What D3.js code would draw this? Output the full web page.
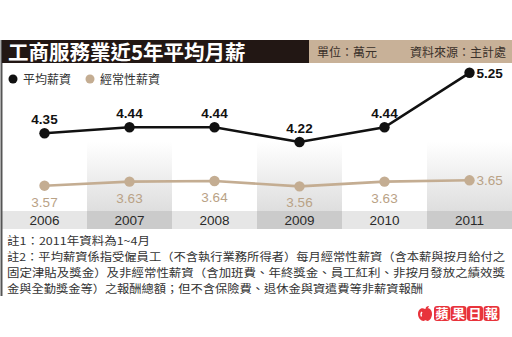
<!DOCTYPE html>
<html><head><meta charset="utf-8">
<script src="https://cdn.jsdelivr.net/npm/d3@7"></script>
<style>
html,body{margin:0;padding:0;background:#fff;}
svg{display:block;}
text{font-family:"Liberation Sans","Noto Sans CJK TC",sans-serif;}
.cjk{font-family:"Noto Sans CJK TC","Noto Sans CJK SC",sans-serif;}
</style></head>
<body>
<script>
const years = ["2006","2007","2008","2009","2010","2011"];
const avgPay = [4.35, 4.44, 4.44, 4.22, 4.44, 5.25];
const regularPay = [3.57, 3.63, 3.64, 3.56, 3.63, 3.65];
const seriesNames = ["平均薪資", "經常性薪資"];
const title = "工商服務業近5年平均月薪";
const unitText = "單位：萬元";
const sourceText = "資料來源：主計處";
const notes = [
  "註1：2011年資料為1~4月",
  "註2：平均薪資係指受僱員工（不含執行業務所得者）每月經常性薪資（含本薪與按月給付之",
  "固定津貼及獎金）及非經常性薪資（含加班費、年終獎金、員工紅利、非按月發放之績效獎",
  "金與全勤獎金等）之報酬總額；但不含保險費、退休金與資遣費等非薪資報酬"
];
const logoChars = ["蘋","果","日","報"];

const W = 512, H = 337;
const black = "#111", tan = "#c4ad92", tanText = "#b9a286";
const svg = d3.select("body").append("svg").attr("width", W).attr("height", H);
const defs = svg.append("defs");
const grad = defs.append("linearGradient").attr("id","colg").attr("x1",0).attr("y1",0).attr("x2",0).attr("y2",1);
grad.append("stop").attr("offset","0%").attr("stop-color","#fff");
grad.append("stop").attr("offset","100%").attr("stop-color","#dedede");

const x = d3.scaleBand().domain(years).range([2, W]).padding(0);
const y = d3.scaleLinear().domain([3, 5.5]).range([224, 56]);

// column backgrounds
const altYears = years.filter((d,i)=>i%2===1);
svg.selectAll("rect.col").data(altYears).join("rect")
  .attr("x", d=>x(d)).attr("y",142).attr("width", x.bandwidth()).attr("height", 69)
  .attr("fill","url(#colg)");
// x label band
svg.selectAll("rect.xb").data(years).join("rect")
  .attr("x", d=>x(d)).attr("y",211).attr("width", x.bandwidth()+0.5).attr("height", 18)
  .attr("fill",(d,i)=> i%2 ? "#cbcbcb" : "#e6e6e6");
svg.selectAll("text.yr").data(years).join("text")
  .attr("x", d=>x(d)+x.bandwidth()/2).attr("y",225).attr("text-anchor","middle")
  .attr("font-size",13.5).attr("fill","#2a2a2a").text(d=>d);

// left border
svg.append("line").attr("x1",1.5).attr("x2",1.5).attr("y1",40).attr("y2",296)
  .attr("stroke","#555").attr("stroke-width",2);

// title bar
svg.append("rect").attr("x",2).attr("y",40).attr("width",308).attr("height",23).attr("fill","#221714");
svg.append("rect").attr("x",309).attr("y",40).attr("width",W-309).attr("height",23).attr("fill","#c8b198");
svg.append("text").attr("class","cjk").attr("x",8).attr("y",60).attr("font-size",20.5)
  .attr("font-weight","bold").attr("fill","#fff").text(title);
svg.append("text").attr("class","cjk").attr("x",317).attr("y",57).attr("font-size",12)
  .attr("fill","#3a302a").text(unitText);
svg.append("text").attr("class","cjk").attr("x",410).attr("y",57).attr("font-size",12)
  .attr("fill","#3a302a").text(sourceText);

// legend
const leg = [{name:seriesNames[0], c:black, x:13},{name:seriesNames[1], c:tan, x:90}];
leg.forEach(l=>{
  svg.append("circle").attr("cx",l.x).attr("cy",79).attr("r",4.5).attr("fill",l.c);
  svg.append("text").attr("class","cjk").attr("x",l.x+10).attr("y",83.5).attr("font-size",12)
    .attr("fill","#333").text(l.name);
});

const line = d3.line().x((d,i)=>x(years[i])+x.bandwidth()/2).y(d=>y(d));
function drawSeries(vals, color, labelColor, above, bold){
  svg.append("path").attr("d", line(vals)).attr("fill","none").attr("stroke",color).attr("stroke-width",2.6);
  svg.selectAll(null).data(vals).join("circle")
    .attr("cx",(d,i)=>x(years[i])+x.bandwidth()/2).attr("cy",d=>y(d)).attr("r",5.2).attr("fill",color);
  svg.selectAll(null).data(vals).join("text")
    .attr("x",(d,i)=> i===vals.length-1 ? x(years[i])+x.bandwidth()/2+7 : x(years[i])+x.bandwidth()/2)
    .attr("y",(d,i)=> i===vals.length-1 ? y(d)+5 : (above ? y(d)-9 : y(d)+21))
    .attr("text-anchor",(d,i)=> i===vals.length-1 ? "start":"middle")
    .attr("font-size",13.5).attr("font-weight", bold?"bold":"normal")
    .attr("fill",labelColor).text(d=>d.toFixed(2));
}
drawSeries(regularPay, tan, tanText, false, false);
drawSeries(avgPay, black, black, true, true);

// notes
const noteY = [245, 261, 277, 293];
const noteLen = [143, 498, 498, 416];
notes.forEach((n,i)=>{
  svg.append("text").attr("class","cjk").attr("x",7).attr("y",noteY[i])
    .attr("font-size",11).attr("fill","#333").text(n)
    .attr("textLength",noteLen[i]).attr("lengthAdjust","spacingAndGlyphs");
});

// logo
const red = "#e8333b";
const lg = svg.append("g").attr("transform","translate(418,306)");
lg.append("path").attr("d","M7,3 C3,1 0,4 0,8 C0,12 3,15 5.5,15 C6.5,15 7,14.3 7.5,14.3 C8,14.3 8.5,15 9.5,15 C12,15 14,11 14,8 C14,4 11,1 8,3 Z M7.5,3 C7.5,1 9,0 11,0 C10.5,2 9,3 7.5,3 Z")
  .attr("fill",red);
lg.append("path").attr("d","M4,6 C3,7 2.8,9 3.5,10.5").attr("stroke","#fff").attr("stroke-width",1.3).attr("fill","none");
logoChars.forEach((c,i)=>{
  lg.append("rect").attr("x",16+i*16.5).attr("y",0).attr("width",16).attr("height",15).attr("rx",3).attr("fill",red);
  lg.append("text").attr("class","cjk").attr("x",24+i*16.5).attr("y",12.3).attr("text-anchor","middle")
    .attr("font-size",13).attr("font-weight","bold").attr("fill","#fff").text(c);
});
</script>
</body></html>
